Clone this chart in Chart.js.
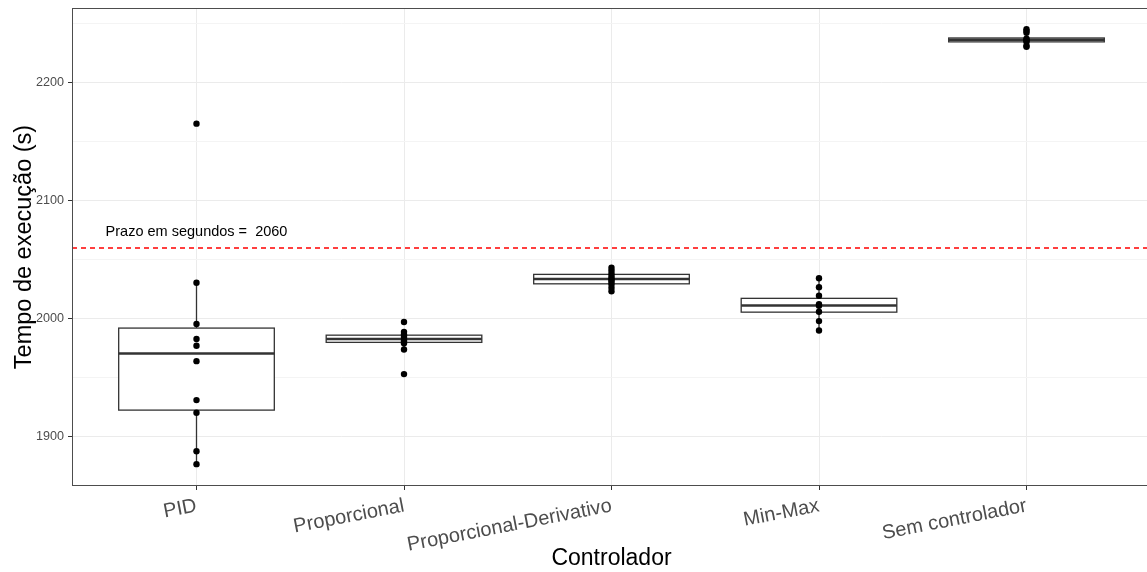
<!DOCTYPE html>
<html>
<head>
<meta charset="utf-8">
<script src="https://cdn.jsdelivr.net/npm/chart.js@4/dist/chart.umd.min.js"></script>
<style>
  html, body { margin: 0; padding: 0; background: #fff; overflow: hidden; }
  #wrap { width: 1160px; height: 572px; position: relative; }
</style>
</head>
<body>
<div id="wrap"><canvas id="chart"></canvas></div>
<script>
// controllers on the x axis
const categories = ["PID", "Proporcional", "Proporcional-Derivativo", "Min-Max", "Sem controlador"];

// observed execution times (s), one list per controller
const pidTimes = [2165, 2030.2, 1995.2, 1982.5, 1976.8, 1963.8, 1930.8, 1920, 1887.5, 1876.5];
const propTimes = [1997, 1988.6, 1986.5, 1985, 1983.5, 1982, 1980.5, 1979, 1973.7, 1952.8];
const pdTimes = [2043, 2040.5, 2038, 2036, 2034, 2032.5, 2031, 2029, 2026, 2023];
const minMaxTimes = [2034, 2026.5, 2019.2, 2012, 2010.7, 2005.6, 1997.7, 1989.8];
const semTimes = [2245, 2243.5, 2242, 2237, 2236, 2235.5, 2234.5, 2231, 2230.2];
const allTimes = [pidTimes, propTimes, pdTimes, minMaxTimes, semTimes];

// box statistics as drawn
const q1 = [1922.3, 1979.7, 2029.3, 2005.3, 2234.3];
const median = [1970.3, 1982.5, 2033.3, 2011, 2236];
const q3 = [1991.8, 1985.8, 2037.3, 2017, 2237.6];
const whiskerLow = [1876.5, 1973.7, 2023, 1989.8, 2230.2];
const whiskerHigh = [2030.2, 1988.6, 2043, 2034, 2242];

const deadline = 2060;
const deadlineLabel = "Prazo em segundos =  " + deadline;
const deadlineLabelY = 2073;

const yMin = 1858;
const yMax = 2263;
const yTicks = [1900, 2000, 2100, 2200];

const FONT = "'Liberation Sans', Arial, Helvetica, sans-serif";

// boxes, whiskers, deadline line and the panel frame
const boxPlugin = {
  id: "boxPlugin",
  beforeDatasetsDraw(chart) {
    const ctx = chart.ctx;
    const xs = chart.scales.x;
    const ys = chart.scales.y;
    const area = chart.chartArea;

    ctx.save();
    categories.forEach((c, i) => {
      const xc = xs.getPixelForValue(i + 1);
      const x0 = xs.getPixelForValue(i + 1 - 0.375);
      const x1 = xs.getPixelForValue(i + 1 + 0.375);
      const yq1 = ys.getPixelForValue(q1[i]);
      const yq3 = ys.getPixelForValue(q3[i]);
      const ymed = ys.getPixelForValue(median[i]);

      ctx.strokeStyle = "#333333";
      ctx.lineWidth = 1.3;
      ctx.beginPath();
      ctx.moveTo(xc, yq3);
      ctx.lineTo(xc, ys.getPixelForValue(whiskerHigh[i]));
      ctx.moveTo(xc, yq1);
      ctx.lineTo(xc, ys.getPixelForValue(whiskerLow[i]));
      ctx.stroke();

      ctx.fillStyle = "#ffffff";
      ctx.fillRect(x0, yq3, x1 - x0, yq1 - yq3);
      ctx.strokeRect(x0, yq3, x1 - x0, yq1 - yq3);

      ctx.lineWidth = 2.5;
      ctx.beginPath();
      ctx.moveTo(x0, ymed);
      ctx.lineTo(x1, ymed);
      ctx.stroke();
    });

    // deadline
    const yd = Math.round(ys.getPixelForValue(deadline));
    ctx.strokeStyle = "#ff0000";
    ctx.lineWidth = 1.5;
    ctx.setLineDash([5, 4]);
    ctx.beginPath();
    ctx.moveTo(area.left, yd);
    ctx.lineTo(area.right, yd);
    ctx.stroke();
    ctx.setLineDash([]);

    ctx.fillStyle = "#000000";
    ctx.font = "14.5px " + FONT;
    ctx.textAlign = "center";
    ctx.textBaseline = "middle";
    ctx.fillText(deadlineLabel, xs.getPixelForValue(1), ys.getPixelForValue(deadlineLabelY));
    ctx.restore();
  },
  afterDraw(chart) {
    const ctx = chart.ctx;
    const a = chart.chartArea;
    ctx.save();
    ctx.strokeStyle = "#4d4d4d";
    ctx.lineWidth = 1;
    ctx.strokeRect(a.left + 0.5, a.top + 0.5, a.right - a.left - 1, a.bottom - a.top - 1);
    ctx.restore();
  }
};

const datasets = allTimes.map((times, i) => ({
  label: categories[i],
  data: times.map(v => ({ x: i + 1, y: v })),
  pointRadius: 3.2,
  pointBackgroundColor: "#000000",
  pointBorderWidth: 0,
  pointHoverRadius: 3.2,
}));

new Chart(document.getElementById("chart"), {
  type: "scatter",
  data: { datasets: datasets },
  plugins: [boxPlugin],
  options: {
    responsive: true,
    maintainAspectRatio: false,
    animation: false,
    layout: { padding: { left: 0, top: 8, right: 9, bottom: 0 } },
    plugins: {
      legend: { display: false },
      tooltip: { enabled: false },
    },
    scales: {
      x: {
        type: "linear",
        min: 0.4,
        max: 5.6,
        afterBuildTicks(scale) {
          scale.ticks = categories.map((c, i) => ({ value: i + 1 }));
        },
        afterFit(scale) {
          scale.height = 86;
          scale.paddingLeft = 0;
          scale.paddingRight = 0;
        },
        border: { display: false },
        grid: {
          color: "#ebebeb",
          lineWidth: 1,
          drawTicks: true,
          tickLength: 4,
          tickColor: "#333333",
        },
        ticks: {
          autoSkip: false,
          minRotation: 11,
          maxRotation: 11,
          padding: 4,
          color: "#4d4d4d",
          font: { family: FONT, size: 20 },
          callback: (v) => categories[v - 1],
        },
        title: {
          display: true,
          text: "Controlador",
          color: "#000000",
          font: { family: FONT, size: 23 },
          padding: { top: 2, bottom: 0 },
        },
      },
      y: {
        min: yMin,
        max: yMax,
        afterBuildTicks(scale) {
          const t = [];
          for (let v = 1900; v <= 2250; v += 50) t.push({ value: v });
          scale.ticks = t;
        },
        afterFit(scale) {
          scale.width = 72;
          scale.paddingTop = 0;
          scale.paddingBottom = 0;
        },
        border: { display: false },
        grid: {
          color: (c) => (yTicks.includes(c.tick.value) ? "#ebebeb" : "#f4f4f4"),
          lineWidth: 1,
          drawTicks: true,
          tickLength: 4,
          tickColor: (c) => (yTicks.includes(c.tick.value) ? "#333333" : "rgba(0,0,0,0)"),
        },
        ticks: {
          padding: 4,
          color: "#4d4d4d",
          font: { family: FONT, size: 12.6 },
          callback: (v) => (yTicks.includes(v) ? String(v) : ""),
        },
        title: {
          display: true,
          text: "Tempo de execução (s)",
          color: "#000000",
          font: { family: FONT, size: 23.5 },
          padding: { top: 10, bottom: 0 },
        },
      },
    },
  },
});
</script>
</body>
</html>
